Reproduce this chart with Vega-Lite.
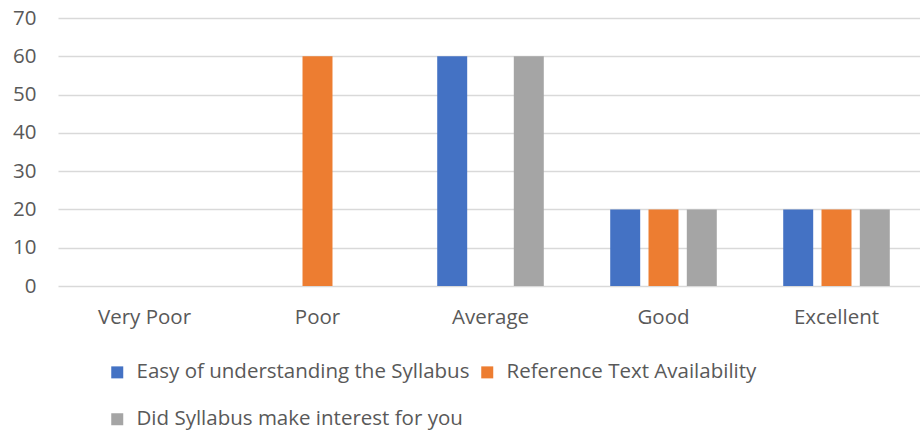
{
  "$schema": "https://vega.github.io/schema/vega-lite/v6.json",
  "width": 865,
  "height": 268,
  "autosize": {"type": "none"},
  "padding": {"left": 58, "top": 18, "right": 0, "bottom": 146},
  "background": "white",
  "data": {
    "values": [
      {"rating": "Very Poor", "series": "Easy of understanding the Syllabus", "value": 0},
      {"rating": "Very Poor", "series": "Reference Text Availability", "value": 0},
      {"rating": "Very Poor", "series": "Did Syllabus make interest for you", "value": 0},
      {"rating": "Poor", "series": "Easy of understanding the Syllabus", "value": 0},
      {"rating": "Poor", "series": "Reference Text Availability", "value": 60},
      {"rating": "Poor", "series": "Did Syllabus make interest for you", "value": 0},
      {"rating": "Average", "series": "Easy of understanding the Syllabus", "value": 60},
      {"rating": "Average", "series": "Reference Text Availability", "value": 0},
      {"rating": "Average", "series": "Did Syllabus make interest for you", "value": 60},
      {"rating": "Good", "series": "Easy of understanding the Syllabus", "value": 20},
      {"rating": "Good", "series": "Reference Text Availability", "value": 20},
      {"rating": "Good", "series": "Did Syllabus make interest for you", "value": 20},
      {"rating": "Excellent", "series": "Easy of understanding the Syllabus", "value": 20},
      {"rating": "Excellent", "series": "Reference Text Availability", "value": 20},
      {"rating": "Excellent", "series": "Did Syllabus make interest for you", "value": 20}
    ]
  },
  "config": {
    "view": {"stroke": null},
    "font": "Open Sans",
    "axis": {"labelFont": "Open Sans", "labelColor": "#595959", "labelFontSize": 20.5}
  },
  "mark": {"type": "bar"},
  "encoding": {
    "x": {
      "field": "rating",
      "type": "nominal",
      "sort": ["Very Poor", "Poor", "Average", "Good", "Excellent"],
      "scale": {"paddingInner": 0.384, "paddingOuter": 0.192},
      "axis": {"title": null, "labelAngle": 0, "domain": false, "ticks": false, "labelPadding": 21}
    },
    "xOffset": {
      "field": "series",
      "type": "nominal",
      "sort": ["Easy of understanding the Syllabus", "Reference Text Availability", "Did Syllabus make interest for you"],
      "scale": {"paddingInner": 0.217, "paddingOuter": 0}
    },
    "y": {
      "field": "value",
      "type": "quantitative",
      "scale": {"domain": [0, 70], "nice": false},
      "axis": {"title": null, "values": [0, 10, 20, 30, 40, 50, 60, 70], "domain": false, "ticks": false, "labelPadding": 22, "gridColor": "#D9D9D9", "gridWidth": 1.3}
    },
    "color": {
      "field": "series",
      "type": "nominal",
      "sort": ["Easy of understanding the Syllabus", "Reference Text Availability", "Did Syllabus make interest for you"],
      "scale": {"range": ["#4472C4", "#ED7D31", "#A5A5A5"]},
      "legend": {
        "title": null,
        "orient": "none",
        "direction": "horizontal",
        "legendX": 49,
        "legendY": 344,
        "columns": 2,
        "columnPadding": 7,
        "rowPadding": 26,
        "symbolType": "square",
        "symbolSize": 144,
        "symbolOpacity": 1,
        "symbolStrokeWidth": 0,
        "labelFont": "Open Sans",
        "labelFontSize": 20.5,
        "labelColor": "#595959",
        "labelOffset": 9,
        "labelLimit": 500,
        "padding": 0
      }
    }
  }
}
